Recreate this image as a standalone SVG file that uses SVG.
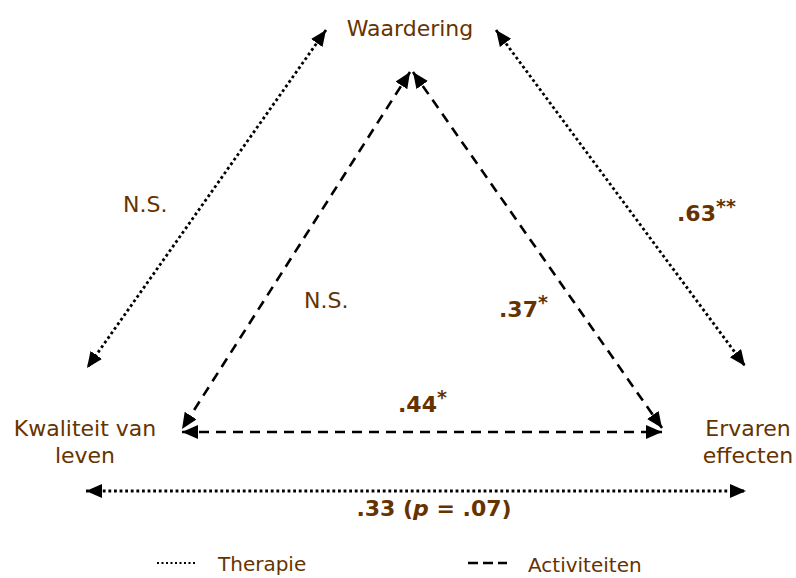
<svg xmlns="http://www.w3.org/2000/svg" width="796" height="578" viewBox="0 0 796 578">
<style>
.t{font-family:"DejaVu Sans","Liberation Sans",sans-serif;font-size:22px;fill:#663300}
.b{font-weight:bold}
.lg{font-size:20px}
.dot{stroke:#000;stroke-width:2.8;fill:none;stroke-dasharray:2.8 2.8}
.dash{stroke:#000;stroke-width:2.6;fill:none;stroke-dasharray:10 7}
.sup{font-size:19px}
</style>
<defs>
<marker id="ah" markerUnits="userSpaceOnUse" markerWidth="17" markerHeight="15" refX="16" refY="7" orient="auto-start-reverse">
<path d="M0,0 L16,7 L0,14 z" fill="#000"/>
</marker>
</defs>
<rect width="796" height="578" fill="#fff"/>
<g id="connectors">
<line class="dot" x1="326" y1="30" x2="87" y2="368" marker-start="url(#ah)" marker-end="url(#ah)"/>
<line class="dot" x1="496" y1="30" x2="745" y2="366" marker-start="url(#ah)" marker-end="url(#ah)"/>
<line class="dot" x1="86" y1="491" x2="746" y2="491" marker-start="url(#ah)" marker-end="url(#ah)"/>
<line class="dash" x1="410" y1="72" x2="182" y2="429" marker-start="url(#ah)" marker-end="url(#ah)"/>
<line class="dash" x1="413" y1="72" x2="662" y2="428" marker-start="url(#ah)" marker-end="url(#ah)"/>
<line class="dash" x1="182" y1="432" x2="662" y2="432" marker-start="url(#ah)" marker-end="url(#ah)"/>
</g>
<g id="waardering"><text class="t" x="410" y="36" text-anchor="middle">Waardering</text></g>
<g id="kwaliteit"><text class="t" x="85" y="436" text-anchor="middle">Kwaliteit van</text><text class="t" x="85" y="463" text-anchor="middle">leven</text></g>
<g id="ervaren"><text class="t" x="748" y="436" text-anchor="middle">Ervaren</text><text class="t" x="748" y="463" text-anchor="middle">effecten</text></g>
<g id="labels">
<text class="t" x="123" y="212">N.S.</text>
<text class="t" x="304" y="308">N.S.</text>
<text class="t b" x="677" y="221">.63<tspan class="sup" dy="-8">**</tspan></text>
<text class="t b" x="499" y="317">.37<tspan class="sup" dy="-8">*</tspan></text>
<text class="t b" x="398" y="412">.44<tspan class="sup" dy="-8">*</tspan></text>
<text class="t b" x="434" y="516" text-anchor="middle">.33 (<tspan font-style="italic">p</tspan> = .07)</text>
</g>
<g id="legend">
<line class="dot" x1="157" y1="563" x2="195" y2="563" style="stroke-width:2;stroke-dasharray:2 2.5"/>
<text class="t lg" x="218" y="571">Therapie</text>
<line class="dash" x1="468" y1="563" x2="507" y2="563" style="stroke-dasharray:10 5"/>
<text class="t lg" x="528" y="572">Activiteiten</text>
</g>
</svg>
